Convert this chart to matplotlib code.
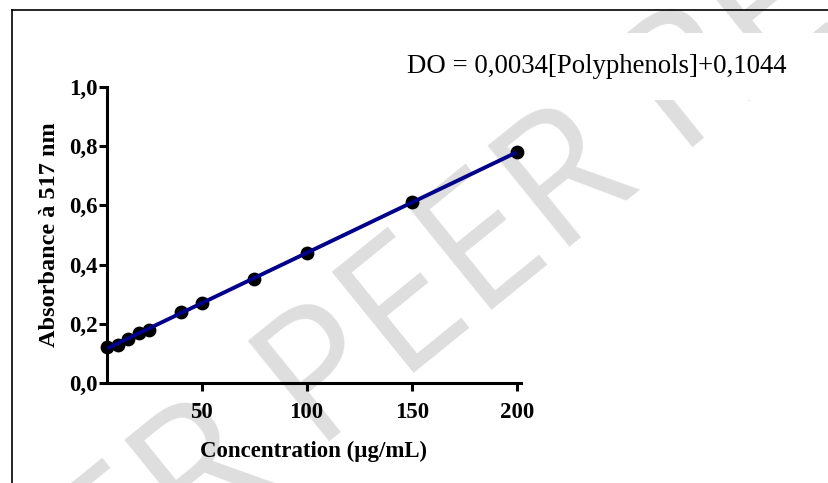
import numpy as np
import matplotlib
matplotlib.use("Agg")
import matplotlib.pyplot as plt
from matplotlib.lines import Line2D
from matplotlib.patches import Rectangle
from matplotlib.ticker import FuncFormatter

# Calibration data (polyphenols, DPPH at 517 nm)
concentration = [5, 10, 15, 20, 25, 40, 50, 75, 100, 150, 200]
absorbance = [0.12, 0.13, 0.15, 0.17, 0.18, 0.24, 0.27, 0.35, 0.44, 0.61, 0.78]

x_ticks = [50, 100, 150, 200]
y_ticks = [0.0, 0.2, 0.4, 0.6, 0.8, 1.0]

equation = "DO = 0,0034[Polyphenols]+0,1044"
x_label = "Concentration (\u00b5g/mL)"
y_label = "Absorbance \u00e0 517 nm"
watermark = "UNDER PEER REVIEW"

W, H = 829, 483
fig = plt.figure(figsize=(W / 100, H / 100), dpi=100)

# watermark behind everything
fig.text(460 / W, 1 - 275 / H, watermark, fontsize=130, color="#dedede",
         family="Open Sans", fontweight="normal", rotation=39,
         rotation_mode="anchor", ha="center", va="center", zorder=0)

# white band behind the equation
fig.patches.append(Rectangle((380 / W, 1 - 100 / H), 1, 67 / H,
                             transform=fig.transFigure, facecolor="white",
                             edgecolor="none", zorder=1))

# frame lines (top and left)
fig.add_artist(Line2D([12 / W, 1], [1 - 10 / H, 1 - 10 / H],
                      color="black", lw=1.2, zorder=5))
fig.add_artist(Line2D([12 / W, 12 / W], [0, 1 - 10 / H],
                      color="black", lw=1.2, zorder=5))

ax = fig.add_axes([107 / W, 1 - 383 / H, (521 - 107) / W, 296 / H])
ax.set_zorder(3)
ax.patch.set_visible(False)

ax.scatter(concentration, absorbance, s=80, color="black", zorder=3,
           clip_on=False)
slope, intercept = np.polyfit(concentration, absorbance, 1)
xs = np.array([min(concentration), max(concentration)])
ax.plot(xs, slope * xs + intercept, color="#00008b", lw=2.8, zorder=4,
        solid_capstyle="butt")

ax.set_xlim(5, 202)
ax.set_ylim(0, 1.0)
ax.set_xticks(x_ticks)
ax.set_yticks(y_ticks)
ax.yaxis.set_major_formatter(FuncFormatter(lambda v, p: f"{v:.1f}".replace(".", ",")))

for side in ["top", "right"]:
    ax.spines[side].set_visible(False)
for side in ["left", "bottom"]:
    ax.spines[side].set_linewidth(2.2)

ax.tick_params(axis="both", direction="out", length=5.5, width=2.2)
ax.tick_params(axis="y", pad=1)
ax.tick_params(axis="x", pad=8)
for lab in ax.get_xticklabels() + ax.get_yticklabels():
    lab.set_family("Liberation Serif")
    lab.set_fontweight("bold")
    lab.set_fontsize(16.5)

ax.set_xlabel(x_label, family="Liberation Serif", fontweight="bold",
              fontsize=16.5, labelpad=13)
ax.set_ylabel(y_label, family="Liberation Serif", fontweight="bold",
              fontsize=17.5, labelpad=7)

fig.text(407 / W, 1 - 73 / H, equation, family="Liberation Serif",
         fontsize=19.3, ha="left", va="baseline", zorder=6)

fig.savefig("out.png", dpi=100, facecolor="white")
